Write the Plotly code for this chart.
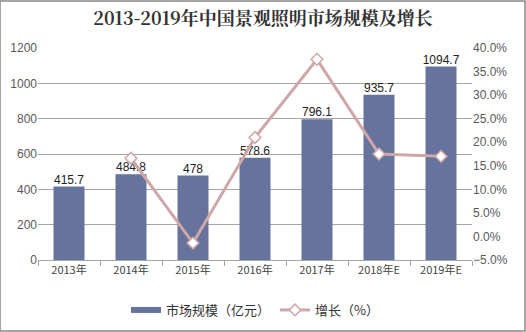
import plotly.graph_objects as go

categories = ["2013年", "2014年", "2015年", "2016年", "2017年", "2018年E", "2019年E"]
market = [415.7, 484.8, 478, 578.6, 796.1, 935.7, 1094.7]
growth = [None, 0.166, -0.014, 0.210, 0.376, 0.175, 0.170]
bar_labels = ["415.7", "484.8", "478", "578.6", "796.1", "935.7", "1094.7"]

font_fam = "Liberation Sans, Arial, sans-serif"
bar_color = "#66739c"
line_color = "#cfa7a8"

fig = go.Figure()
fig.add_trace(go.Bar(
    x=categories, y=market, name="市场规模（亿元）",
    marker=dict(color=bar_color, line=dict(width=0)),
    width=0.5, showlegend=False,
))
fig.add_trace(go.Scatter(
    x=categories, y=market, mode="text", text=bar_labels, textposition="top center",
    textfont=dict(size=12, color="#222222", family=font_fam),
    showlegend=False, cliponaxis=False, hoverinfo="skip",
))
# legend entry for bars (flat wide bar glyph)
fig.add_trace(go.Scatter(
    x=[None], y=[None], mode="lines", name="市场规模（亿元）",
    line=dict(color=bar_color, width=6),
))
fig.add_trace(go.Scatter(
    x=categories, y=growth, name="增长（%）", yaxis="y2", mode="lines+markers",
    line=dict(color=line_color, width=3),
    marker=dict(symbol="diamond", size=9, color="white", line=dict(color=line_color, width=1.5)),
    connectgaps=False,
))
fig.update_layout(
    width=526, height=332,
    margin=dict(l=38, r=54, t=48, b=72, autoexpand=False),
    paper_bgcolor="white", plot_bgcolor="white",
    title=dict(text="<b>2013-2019年中国景观照明市场规模及增长</b>", x=0.5, xanchor="center", y=0.945, yanchor="middle",
               font=dict(family="Noto Serif CJK SC, Noto Sans CJK SC, serif", size=18, color="#333333")),
    font=dict(family=font_fam, size=12, color="#595959"),
    showlegend=True,
    legend=dict(orientation="h", x=0.5, xanchor="center", yref="container", y=22/332, yanchor="middle",
                font=dict(family="Noto Sans CJK SC", size=13, color="#333333")),
    xaxis=dict(type="category", showline=True, linecolor="#a6a6a6", ticks="outside", tickson="boundaries",
               tickcolor="#a6a6a6", ticklen=5, tickfont=dict(family="Noto Sans CJK SC", size=11, color="#444444")),
    yaxis=dict(range=[0, 1200], dtick=200, showgrid=True, gridcolor="#a6a6a6", gridwidth=1,
               zeroline=False, tickfont=dict(size=12, color="#595959")),
    yaxis2=dict(overlaying="y", side="right", range=[-0.05, 0.40], dtick=0.05, tickformat=".1%",
                showgrid=False, zeroline=False, tickfont=dict(size=12, color="#595959")),
    shapes=[dict(type="rect", xref="paper", yref="paper", x0=-38/434, x1=1+53/434, y0=-71/212, y1=1+47/212,
                 line=dict(color="#888888", width=1.5), fillcolor="rgba(0,0,0,0)", layer="below")],
)
fig.write_html("out.html")
